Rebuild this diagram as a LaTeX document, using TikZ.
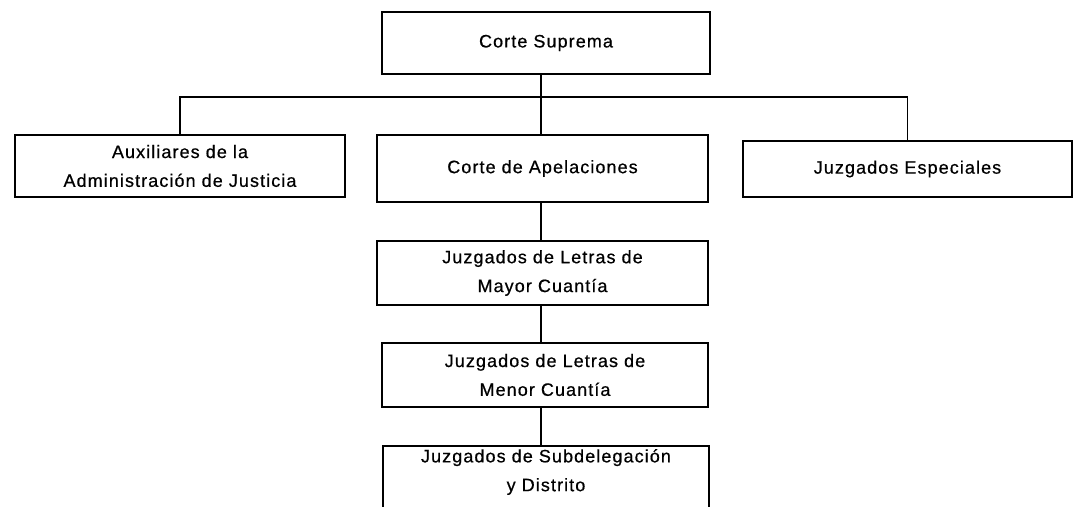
\documentclass[tikz,border=0pt]{standalone}
\usepackage{fontspec}
\setmainfont{Liberation Sans}[LetterSpace=6,FakeBold=0.6]
\begin{document}
\begin{tikzpicture}[x=0.025cm,y=-0.025cm,
  org/.style={draw, line width=1.2pt, rectangle, inner sep=0pt, align=center,
    font=\fontsize{12.8}{20.5}\selectfont},
  link/.style={line width=1.1pt}]
\useasboundingbox (0,0) rectangle (1077,506);
\node[org, minimum width=328*0.025cm, minimum height=62*0.025cm] (sup) at (546,43) {Corte Suprema};
\node[org, minimum width=330*0.025cm, minimum height=62*0.025cm] (aux) at (180,166) {Auxiliares de la\\Administración de Justicia};
\node[org, minimum width=331*0.025cm, minimum height=67*0.025cm] (apel) at (542.5,168.5) {Corte de Apelaciones};
\node[org, minimum width=329*0.025cm, minimum height=56*0.025cm] (esp) at (907.5,169) {Juzgados Especiales};
\node[org, minimum width=331*0.025cm, minimum height=64*0.025cm] (may) at (542.5,273) {Juzgados de Letras de\\Mayor Cuantía};
\node[org, minimum width=326*0.025cm, minimum height=64*0.025cm] (men) at (545,375) {Juzgados de Letras de\\Menor Cuantía};
\node[org, draw=none, minimum width=324*0.025cm, minimum height=50*0.025cm] (sub) at (546,472) {Juzgados de Subdelegación\\y Distrito};
\draw[line width=1.2pt] (sub.west |- 0,515) -- (sub.north west) -- (sub.north east) -- (sub.east |- 0,515);
\coordinate (j) at (541,97);
\draw[link] (sup.south -| j) -- (apel.north -| j);
\draw[link] (aux.north) -- (aux.north |- j) -- (esp.north |- j) -- (esp.north);
\draw[link] (apel.south -| j) -- (may.north -| j);
\draw[link] (may.south -| j) -- (men.north -| j);
\draw[link] (men.south -| j) -- (sub.north -| j);
\end{tikzpicture}
\end{document}
